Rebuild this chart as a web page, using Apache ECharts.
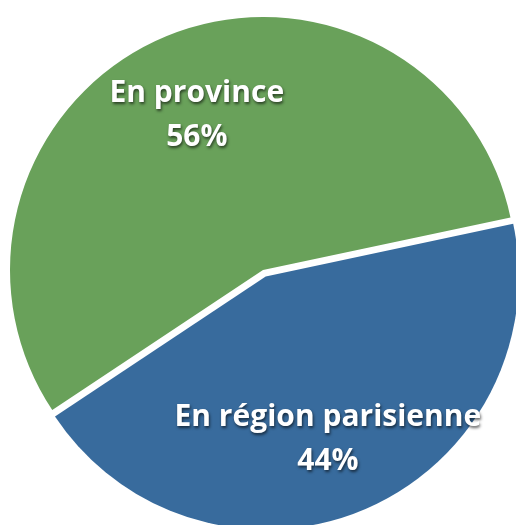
<!DOCTYPE html>
<html>
<head>
<meta charset="utf-8">
<script src="https://cdn.jsdelivr.net/npm/echarts@6/dist/echarts.min.js"></script>
<style>html,body{margin:0;padding:0;background:#fff;}#c{width:516px;height:525px;}</style>
</head>
<body>
<div id="c"></div>
<script>
const categories = ['En région parisienne', 'En province'];
const values = [44, 56];
const colors = ['#386b9d', '#69a15a'];
const labelOffsets = [[12, 44], [-16, -35]];
const exploded = [true, false];

const chart = echarts.init(document.getElementById('c'), null, {renderer: 'canvas'});
chart.setOption({
  backgroundColor: '#ffffff',
  animation: false,
  series: [{
    type: 'pie',
    center: [263, 270],
    radius: [0, 253],
    startAngle: 12,
    clockwise: true,
    selectedMode: 'multiple',
    selectedOffset: 7,
    avoidLabelOverlap: false,
    emphasis: {disabled: true},
    label: {
      show: true,
      position: 'inside',
      formatter: '{b}\n{d}%',
      color: '#ffffff',
      fontFamily: 'Open Sans',
      fontWeight: 'bold',
      fontSize: 30,
      lineHeight: 44,
      align: 'center',
      textShadowColor: 'rgba(0,0,0,0.6)',
      textShadowBlur: 3,
      textShadowOffsetX: 1,
      textShadowOffsetY: 2
    },
    labelLine: {show: false},
    itemStyle: {borderWidth: 0},
    data: categories.map((n, i) => ({
      name: n,
      value: values[i],
      selected: exploded[i],
      itemStyle: {color: colors[i]},
      label: {offset: labelOffsets[i]},
      select: {label: {offset: labelOffsets[i]}}
    }))
  }]
});
</script>
</body>
</html>
